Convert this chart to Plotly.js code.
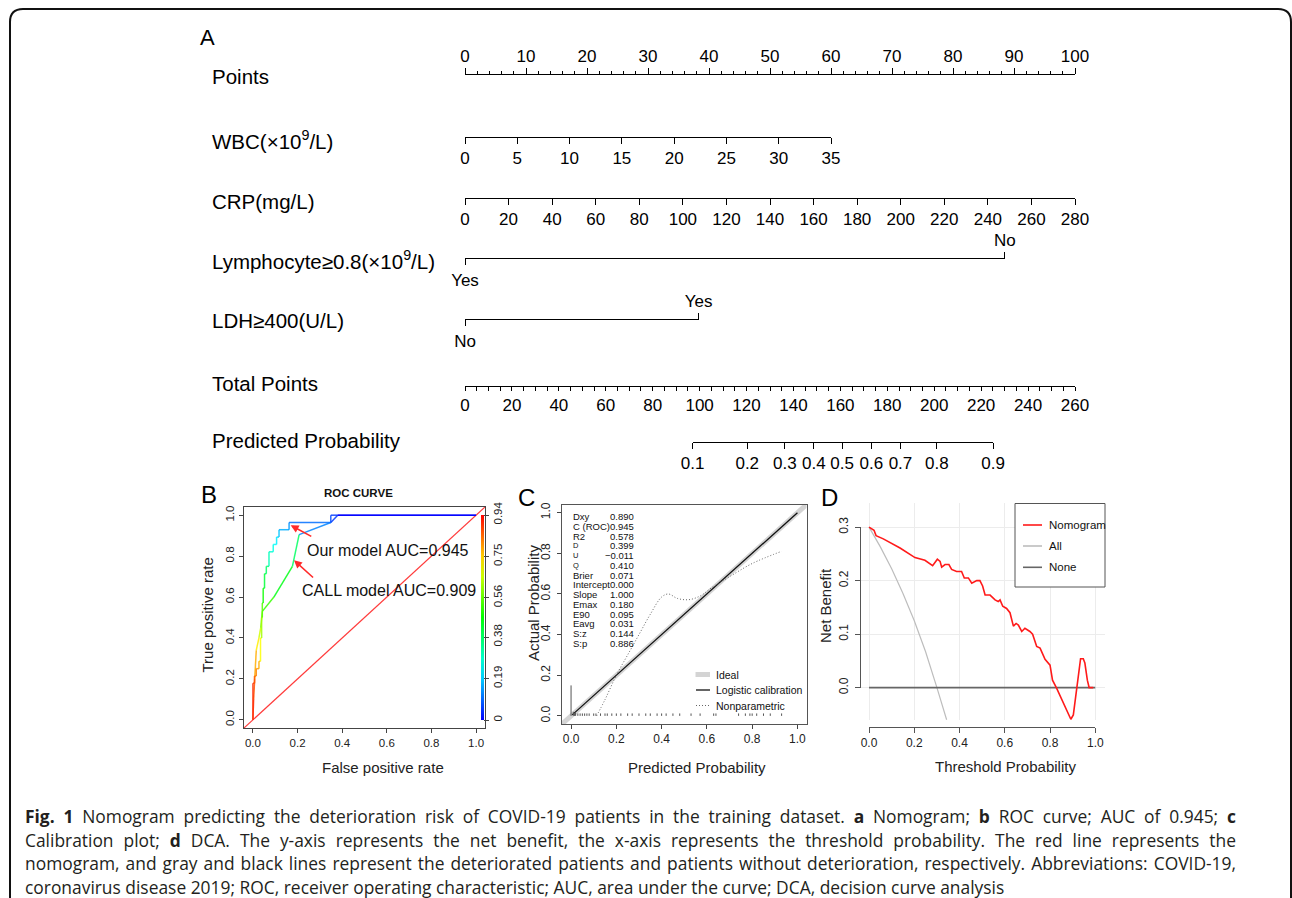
<!DOCTYPE html>
<html><head><meta charset="utf-8">
<script src="https://cdn.plot.ly/plotly-3.0.1.min.js"></script>
<style>html,body{margin:0;padding:0;background:#fff}#chart{width:1292px;height:898px}</style>
</head><body><div id="chart"></div>
<script>
// ================= DATA =================
// --- Nomogram (A) ---
const pointsTicks = [0,10,20,30,40,50,60,70,80,90,100];
const wbcTicks = [0,5,10,15,20,25,30,35];
const wbcMaxPoints = 60;          // points contributed by WBC = 35
const crpTicks = [0,20,40,60,80,100,120,140,160,180,200,220,240,260,280];
const crpMaxPoints = 100;         // points contributed by CRP = 280
const lymphLevels = ['Yes','No'];
const lymphPoints = [0, 88.5];
const ldhLevels = ['No','Yes'];
const ldhPoints = [0, 38.3];
const totalTicks = [0,20,40,60,80,100,120,140,160,180,200,220,240,260];
const totalMax = 260;
const probTicks = [0.1,0.2,0.3,0.4,0.5,0.6,0.7,0.8,0.9];
const probTotalPoints = [97,120.3,136.3,148.7,160.7,173.2,185.6,201.1,225.1];
const nomoLabels = ['Points','WBC(×10<sup>9</sup>/L)','CRP(mg/L)','Lymphocyte≥0.8(×10<sup>9</sup>/L)','LDH≥400(U/L)','Total Points','Predicted Probability'];

// --- ROC (B) ---
const ourFpr = [0,0,0.007,0.007,0.015,0.015,0.027,0.027,0.034,0.034,0.039,0.039,0.042,0.042,0.046,0.046,0.052,0.052,0.06,0.06,0.072,0.072,0.091,0.091,0.106,0.106,0.117,0.117,0.162,0.162,0.349,0.349,0.38,1.0];
const ourTpr = [0,0.179,0.179,0.214,0.214,0.25,0.25,0.286,0.286,0.40,0.40,0.50,0.50,0.571,0.571,0.643,0.643,0.714,0.714,0.75,0.75,0.821,0.821,0.857,0.857,0.893,0.893,0.929,0.929,0.964,0.964,1.0,1.0,1.0];
const ourCut = [0.94,0.90,0.88,0.86,0.84,0.82,0.80,0.78,0.76,0.70,0.68,0.62,0.60,0.55,0.53,0.48,0.46,0.42,0.40,0.38,0.36,0.30,0.28,0.26,0.24,0.22,0.20,0.18,0.16,0.14,0.10,0.07,0.05,0.0];
const callFpr = [0,0.003,0.008,0.015,0.027,0.035,0.042,0.094,0.177,0.207,0.349,0.38,1.0];
const callTpr = [0,0.10,0.20,0.34,0.40,0.45,0.53,0.60,0.75,0.905,0.964,1.0,1.0];
const callCut = [0.94,0.90,0.86,0.78,0.72,0.66,0.58,0.52,0.45,0.38,0.12,0.05,0.0];
const cbTicks = [0,0.19,0.38,0.56,0.75,0.94];
const diagLine = [-0.04,1.04];
const rocLabels = ['Our model AUC=0.945','CALL model AUC=0.909'];

// --- Calibration (C) ---
const calLogX = [0.005,1.0];
const calLogY = [0.005,1.0];
const calNpX = [0.113,0.15,0.2,0.25,0.3,0.35,0.40,0.43,0.47,0.52,0.57,0.62,0.70,0.80,0.93];
const calNpY = [0.0,0.08,0.2,0.3,0.4,0.5,0.585,0.60,0.578,0.572,0.59,0.63,0.685,0.75,0.81];
const rugX = [0.0,0.01,0.015,0.02,0.03,0.04,0.05,0.06,0.07,0.08,0.1,0.11,0.13,0.15,0.16,0.18,0.2,0.22,0.25,0.27,0.3,0.33,0.35,0.38,0.4,0.42,0.45,0.48,0.53,0.57,0.63,0.64,0.74,0.77,0.79,0.8,0.82,0.85,0.88,0.93];
const rugH = [0.15,0.02,0.012,0.015,0.012,0.012,0.012,0.012,0.012,0.012,0.012,0.012,0.012,0.012,0.012,0.012,0.012,0.012,0.012,0.012,0.012,0.012,0.012,0.012,0.012,0.012,0.012,0.012,0.012,0.012,0.012,0.012,0.012,0.012,0.012,0.012,0.012,0.012,0.012,0.012];
const statNames = ['Dxy','C (ROC)','R2','D','U','Q','Brier','Intercept','Slope','Emax','E90','Eavg','S:z','S:p'];
const statValues = ['0.890','0.945','0.578','0.399','\u22120.011','0.410','0.071','0.000','1.000','0.180','0.095','0.031','0.144','0.886'];
const calLegend = ['Ideal','Logistic calibration','Nonparametric'];

// --- DCA (D) ---
const dcaX = [0,0.012,0.022,0.031,0.063,0.137,0.203,0.247,0.281,0.302,0.314,0.321,0.336,0.353,0.365,0.387,0.409,0.421,0.439,0.454,0.476,0.490,0.502,0.513,0.535,0.557,0.571,0.579,0.591,0.608,0.623,0.638,0.650,0.660,0.675,0.689,0.711,0.723,0.741,0.756,0.778,0.800,0.811,0.829,0.873,0.892,0.903,0.929,0.935,0.947,0.954,0.965,0.973,0.991];
const dcaNomo = [0.300,0.296,0.294,0.284,0.278,0.261,0.243,0.238,0.228,0.240,0.236,0.225,0.230,0.230,0.221,0.217,0.217,0.205,0.205,0.195,0.200,0.200,0.190,0.173,0.173,0.164,0.161,0.164,0.152,0.148,0.140,0.115,0.120,0.117,0.105,0.111,0.105,0.100,0.077,0.074,0.053,0.042,0.014,-0.001,-0.042,-0.059,-0.051,0.033,0.054,0.054,0.046,0.014,0.0,0.0];
const dcaAllX = [0,0.05,0.1,0.15,0.2,0.25,0.3,0.343];
const dcaAllY = [0.3,0.263,0.222,0.176,0.125,0.067,0.0,-0.06];
const dcaNoneX = [0,1];
const dcaNoneY = [0,0];
const dcaLegend = ['Nomogram','All','None'];
const unitTicks = [0,0.2,0.4,0.6,0.8,1.0];
const nbTicks = [0,0.1,0.2,0.3];

// --- Caption ---
const captionLines = [
 '<b>Fig. 1</b> Nomogram predicting the deterioration risk of COVID-19 patients in the training dataset. <b>a</b> Nomogram; <b>b</b> ROC curve; AUC of 0.945; <b>c</b>',
 'Calibration plot; <b>d</b> DCA. The y-axis represents the net benefit, the x-axis represents the threshold probability. The red line represents the',
 'nomogram, and gray and black lines represent the deteriorated patients and patients without deterioration, respectively. Abbreviations: COVID-19,',
 'coronavirus disease 2019; ROC, receiver operating characteristic; AUC, area under the curve; DCA, decision curve analysis'
];

// ================= LAYOUT HELPERS =================
const W=1292, H=898;
const PX = x => x/W, PY = y => 1 - y/H;
const HEL = '"Liberation Sans", Arial, Helvetica, sans-serif';
const CAP = '"Open Sans", "Noto Sans", sans-serif';
const NX0 = 465, NX1 = 1075;
const ptsPx = p => NX0 + (NX1-NX0)*p/100;

function nomoAx(lineY, p0, p1, r0, r1, side, vals, text, extra){
  return Object.assign({
    anchor:'free', position:PY(lineY), domain:[PX(ptsPx(p0)), PX(ptsPx(p1))],
    range:[r0,r1], side:side, showline:true, linecolor:'#000', linewidth:1,
    ticks:'outside', ticklen:6, tickwidth:1, tickcolor:'#000',
    tickmode:'array', tickvals:vals, ticktext:text, tickangle:0,
    tickfont:{family:HEL, size:17, color:'#000'},
    showgrid:false, zeroline:false, fixedrange:true
  }, extra||{});
}

const layout = {
  width:W, height:H, margin:{l:0,r:0,t:0,b:0}, paper_bgcolor:'#fff', plot_bgcolor:'rgba(0,0,0,0)',
  showlegend:false, font:{family:HEL, color:'#222'},
  yaxis:{domain:[PY(480),PY(20)], range:[0,1], visible:false, fixedrange:true},
  xaxis: nomoAx(74.3, 0, 100, 0, 100, 'top', pointsTicks, pointsTicks.map(String),
          {minor:{ticks:'outside', ticklen:3, tickcolor:'#000', tickwidth:1, tickmode:'linear', tick0:0, dtick:2, showgrid:false}}),
  xaxis2: nomoAx(136.7, 0, wbcMaxPoints, 0, wbcTicks[wbcTicks.length-1], 'bottom', wbcTicks, wbcTicks.map(String)),
  xaxis3: nomoAx(197.7, 0, crpMaxPoints, 0, crpTicks[crpTicks.length-1], 'bottom', crpTicks, crpTicks.map(String)),
  xaxis4: nomoAx(258.3, 0, lymphPoints[1], 0, lymphPoints[1], 'top', [lymphPoints[1]], [lymphLevels[1]]),
  xaxis5: nomoAx(258.3, 0, lymphPoints[1], 0, lymphPoints[1], 'bottom', [lymphPoints[0]], [lymphLevels[0]]),
  xaxis6: nomoAx(319.3, 0, ldhPoints[1], 0, ldhPoints[1], 'top', [ldhPoints[1]], [ldhLevels[1]]),
  xaxis7: nomoAx(319.3, 0, ldhPoints[1], 0, ldhPoints[1], 'bottom', [ldhPoints[0]], [ldhLevels[0]]),
  xaxis8: nomoAx(386, 0, 100, 0, totalMax, 'bottom', totalTicks, totalTicks.map(String),
          {ticklen:4, minor:{ticks:'outside', ticklen:4, tickcolor:'#000', tickwidth:1, tickmode:'linear', tick0:0, dtick:5, showgrid:false}}),
  xaxis9: nomoAx(441.7, probTotalPoints[0]/totalMax*100, probTotalPoints[probTotalPoints.length-1]/totalMax*100,
          probTotalPoints[0], probTotalPoints[probTotalPoints.length-1], 'bottom', probTotalPoints, probTicks.map(String)),
  annotations:[], shapes:[]
};

// ROC axes
const rocAxBase = {range:[-0.04,1.04], showline:true, mirror:true, linecolor:'#444', linewidth:1,
  ticks:'outside', ticklen:4, tickcolor:'#444', tickvals:unitTicks, tickformat:'.1f',
  tickfont:{family:HEL, size:11.5, color:'#222'}, showgrid:false, zeroline:false, fixedrange:true};
layout.xaxis10 = Object.assign({}, rocAxBase, {domain:[PX(244),PX(485)], anchor:'y10'});
layout.yaxis10 = Object.assign({}, rocAxBase, {domain:[PY(728),PY(507)], anchor:'x10', tickangle:-90});
// Calibration axes
layout.xaxis11 = Object.assign({}, rocAxBase, {domain:[PX(562),PX(806.5)], anchor:'y11', tickfont:{family:HEL,size:12,color:'#222'}, linecolor:'#555'});
layout.yaxis11 = Object.assign({}, rocAxBase, {domain:[PY(724),PY(504.6)], anchor:'x11', tickangle:-90, tickfont:{family:HEL,size:12,color:'#222'}, linecolor:'#555', ticklabelstandoff:2});
// DCA axes (grid panel + R-style axes)
layout.xaxis12 = {domain:[PX(860),PX(1105)], range:[-0.04,1.043], anchor:'y12', showgrid:true, gridcolor:'#ececec', gridwidth:1,
  tickvals:unitTicks, showticklabels:false, ticks:'', showline:false, zeroline:false, fixedrange:true};
layout.yaxis12 = {domain:[PY(720),PY(503)], range:[-0.0604,0.345], anchor:'x12', showgrid:true, gridcolor:'#ececec', gridwidth:1,
  tickvals:nbTicks, showticklabels:false, ticks:'', showline:false, zeroline:false, fixedrange:true};
layout.xaxis13 = {domain:[PX(869),PX(1095.3)], range:[0,1], anchor:'free', position:PY(726.7), showline:true, linecolor:'#555',
  ticks:'outside', ticklen:5, tickcolor:'#555', tickvals:unitTicks, tickformat:'.1f', tickfont:{family:HEL,size:12,color:'#222'},
  showgrid:false, zeroline:false, fixedrange:true};
layout.yaxis13 = {domain:[PY(687.7),PY(527.3)], range:[0,0.3], anchor:'free', position:PX(860), showline:true, linecolor:'#555',
  ticks:'outside', ticklen:5, tickcolor:'#555', tickvals:nbTicks, tickformat:'.1f', tickangle:-90, tickfont:{family:HEL,size:12,color:'#222'},
  ticklabelstandoff:2, showgrid:false, zeroline:false, fixedrange:true};

// ================= TRACES =================
const traces = [];
['x','x2','x3','x4','x5','x6','x7','x8','x9'].forEach(id => traces.push({x:[null], y:[null], xaxis:id, yaxis:'y', mode:'markers', hoverinfo:'skip', showlegend:false}));

// ROC colouring by cutoff (rainbow: red = high cutoff, blue = low)
const CMAX = cbTicks[cbTicks.length-1];
const rainbow = c => 'hsl(' + (240*(1-Math.max(0,Math.min(1,c/CMAX)))).toFixed(0) + ',100%,50%)';
const cscale = []; for (let i=0;i<=10;i++){ cscale.push([i/10, rainbow(CMAX*i/10)]); }

traces.push({x:diagLine, y:diagLine, xaxis:'x10', yaxis:'y10', mode:'lines', line:{color:'#ff3b3b', width:1.2}, hoverinfo:'skip', showlegend:false});
function addColored(fx, ty, cut){
  for (let i=1;i<fx.length;i++){
    traces.push({x:[fx[i-1],fx[i]], y:[ty[i-1],ty[i]], xaxis:'x10', yaxis:'y10', mode:'lines',
      line:{color:rainbow(cut[i]), width:1.5}, opacity:0.85, hoverinfo:'skip', showlegend:false});
  }
}
addColored(callFpr, callTpr, callCut);
addColored(ourFpr, ourTpr, ourCut);
traces.push({x:[-1], y:[-1], xaxis:'x10', yaxis:'y10', mode:'markers', hoverinfo:'skip', showlegend:false,
  marker:{color:[0], cmin:0, cmax:CMAX, colorscale:cscale, showscale:true,
    colorbar:{x:PX(481), xanchor:'left', xref:'paper', y:PY(720), yanchor:'bottom', yref:'paper', len:205/H, lenmode:'fraction',
      thickness:3, thicknessmode:'pixels', outlinewidth:0, borderwidth:0, xpad:0, ypad:0, bgcolor:'rgba(0,0,0,0)',
      ticks:'outside', ticklen:5, tickwidth:1, tickcolor:'#444', tickmode:'array', tickvals:cbTicks, ticktext:cbTicks.map(String),
      tickangle:-90, tickfont:{family:HEL, size:11.5, color:'#222'}}}});

// Calibration
traces.push({x:diagLine, y:diagLine, xaxis:'x11', yaxis:'y11', mode:'lines', line:{color:'#d4d4d4', width:5}, hoverinfo:'skip', showlegend:false});
traces.push({x:calLogX, y:calLogY, xaxis:'x11', yaxis:'y11', mode:'lines', line:{color:'#111', width:1.3}, hoverinfo:'skip', showlegend:false});
traces.push({x:calNpX, y:calNpY, xaxis:'x11', yaxis:'y11', mode:'lines', line:{color:'#666', width:1, dash:'1px,2px', shape:'spline'}, hoverinfo:'skip', showlegend:false});
const rx=[], ry=[];
rugX.forEach((v,i)=>{ rx.push(v,v,null); ry.push(0,rugH[i],null); });
traces.push({x:rx, y:ry, xaxis:'x11', yaxis:'y11', mode:'lines', line:{color:'#555', width:1}, hoverinfo:'skip', showlegend:false});

// DCA
traces.push({x:dcaAllX, y:dcaAllY, xaxis:'x12', yaxis:'y12', mode:'lines', line:{color:'#bdbdbd', width:1.2}, hoverinfo:'skip', showlegend:false});
traces.push({x:dcaNoneX, y:dcaNoneY, xaxis:'x12', yaxis:'y12', mode:'lines', line:{color:'#666', width:1.6}, hoverinfo:'skip', showlegend:false});
traces.push({x:dcaX, y:dcaNomo, xaxis:'x12', yaxis:'y12', mode:'lines', line:{color:'#ff1a1a', width:1.6}, hoverinfo:'skip', showlegend:false});
traces.push({x:[null], y:[null], xaxis:'x13', yaxis:'y13', mode:'markers', hoverinfo:'skip', showlegend:false});

// ================= ANNOTATIONS / SHAPES =================
const A = layout.annotations, S = layout.shapes;
function txt(x, y, text, size, opt){
  A.push(Object.assign({xref:'paper', yref:'paper', x:PX(x), y:PY(y), text:text, showarrow:false,
    xanchor:'left', yanchor:'middle', font:{family:HEL, size:size, color:'#000'}}, opt||{}));
  return A.length-1;
}
// nomogram row labels
const rowLabelY = [76,140,201,260,320,383,441];
nomoLabels.forEach((t,i)=> txt(210, rowLabelY[i], t, 20.5));
// panel letters
txt(198, 37, 'A', 22);
txt(199, 494, 'B', 24);
txt(516, 497, 'C', 24);
txt(819, 497, 'D', 24);
// ROC title / axis titles
txt(358.7, 493, '<b>ROC CURVE</b>', 11.5, {xanchor:'center', font:{family:HEL,size:11.5,color:'#111'}});
txt(383, 767, 'False positive rate', 15, {xanchor:'center', font:{family:HEL,size:15,color:'#222'}});
txt(206.5, 615, 'True positive rate', 15, {xanchor:'center', textangle:-90, font:{family:HEL,size:15,color:'#222'}});
// ROC annotations
A.push({xref:'x10', yref:'y10', x:0.605, y:0.829, text:rocLabels[0], showarrow:false, font:{family:HEL,size:16,color:'#111'}});
A.push({xref:'x10', yref:'y10', x:0.608, y:0.634, text:rocLabels[1], showarrow:false, font:{family:HEL,size:16,color:'#111'}});
A.push({xref:'x10', yref:'y10', x:0.169, y:0.951, axref:'x10', ayref:'y10', ax:0.266, ay:0.894, text:'\u00a0', font:{size:2}, borderpad:0, showarrow:true,
  arrowhead:2, arrowsize:1, arrowwidth:1.6, arrowcolor:'#ff2a2a'});
A.push({xref:'x10', yref:'y10', x:0.184, y:0.78, axref:'x10', ayref:'y10', ax:0.274, ay:0.691, text:'\u00a0', font:{size:2}, borderpad:0, showarrow:true,
  arrowhead:2, arrowsize:1, arrowwidth:1.6, arrowcolor:'#ff2a2a'});
// Calibration titles
txt(697, 767, 'Predicted Probability', 15, {xanchor:'center', font:{family:HEL,size:15,color:'#222'}});
txt(533, 603, 'Actual Probability', 15, {xanchor:'center', textangle:-90, font:{family:HEL,size:15,color:'#222'}});
// stats block
statNames.forEach((n,i)=>{
  const small = (n==='D'||n==='U'||n==='Q');
  const y = 516.7 + i*9.74;
  txt(571, y, n, small?7.5:9.5, {font:{family:HEL,size:small?7.5:9.5,color:'#111'}});
  txt(636, y, statValues[i], 9.5, {xanchor:'right', font:{family:HEL,size:9.5,color:'#111'}});
});
// calibration legend
const calLegY = [674.5,690,705.5];
S.push({type:'line', xref:'paper', yref:'paper', x0:PX(695.5), x1:PX(710), y0:PY(calLegY[0]), y1:PY(calLegY[0]), line:{color:'#d4d4d4', width:5}});
S.push({type:'line', xref:'paper', yref:'paper', x0:PX(696), x1:PX(710), y0:PY(calLegY[1]), y1:PY(calLegY[1]), line:{color:'#111', width:1.3}});
S.push({type:'line', xref:'paper', yref:'paper', x0:PX(696), x1:PX(710), y0:PY(calLegY[2]), y1:PY(calLegY[2]), line:{color:'#666', width:1, dash:'1px,2px'}});
calLegend.forEach((t,i)=> txt(714, calLegY[i], t, 10.5, {font:{family:HEL,size:10.5,color:'#111'}}));
// DCA titles
txt(1005, 766, 'Threshold Probability', 15, {xanchor:'center', font:{family:HEL,size:15,color:'#222'}});
txt(825, 606, 'Net Benefit', 15, {xanchor:'center', textangle:-90, font:{family:HEL,size:15,color:'#222'}});
// DCA legend
S.push({type:'rect', xref:'paper', yref:'paper', x0:PX(1015), x1:PX(1105), y0:PY(587), y1:PY(503.5), line:{color:'#555', width:1}, fillcolor:'#fff'});
const dcaLegY = [525,546,567.3];
const dcaLegCol = ['#ff1a1a','#bdbdbd','#666'];
dcaLegCol.forEach((c,i)=> S.push({type:'line', xref:'paper', yref:'paper', x0:PX(1023), x1:PX(1042), y0:PY(dcaLegY[i]), y1:PY(dcaLegY[i]), line:{color:c, width:1.6}}));
dcaLegend.forEach((t,i)=> txt(1047, dcaLegY[i], t, 11.5, {font:{family:HEL,size:11.5,color:'#111'}}));
// caption
const capY = [816,839.5,863,886.5];
const CAP_L = 24, CAP_R = 1235;
const capIdx = captionLines.map((t,i)=> txt(CAP_L, capY[i], t, 17.4, {font:{family:CAP,size:17.4,color:'#231f20'}, borderpad:0}));
// rounded frame
const fx0=PX(10), fx1=PX(1291), fy0=PY(9), fyB=PY(960), rX=PX(23)-PX(10), rY=PY(9)-PY(22);
S.push({type:'path', xref:'paper', yref:'paper', line:{color:'#111', width:2},
  path:`M ${fx0},${fyB} L ${fx0},${fy0-rY} Q ${fx0},${fy0} ${fx0+rX},${fy0} L ${fx1-rX},${fy0} Q ${fx1},${fy0} ${fx1},${fy0-rY} L ${fx1},${fyB}`});

Plotly.newPlot('chart', traces, layout, {displayModeBar:false, staticPlot:true}).then(gd => {
  // justify the caption lines (all but the last), as in the typeset original
  capIdx.forEach((k, j) => {
    if (j === capIdx.length-1) return;
    const el = gd.querySelector('.annotation[data-index="' + k + '"] text.annotation-text');
    if (!el) return;
    const b0 = el.getBBox();
    const nSp = (el.textContent.match(/ /g) || []).length;
    const target = CAP_R - CAP_L;
    if (nSp > 0 && b0.width < target) {
      el.style.wordSpacing = ((target - b0.width) / nSp).toFixed(3) + 'px';
      const b1 = el.getBBox();
      const prev = el.getAttribute('transform') || '';
      el.setAttribute('transform', (prev + ' translate(' + (b0.x - b1.x).toFixed(2) + ',0)').trim());
    }
  });
});
</script>
</body></html>
